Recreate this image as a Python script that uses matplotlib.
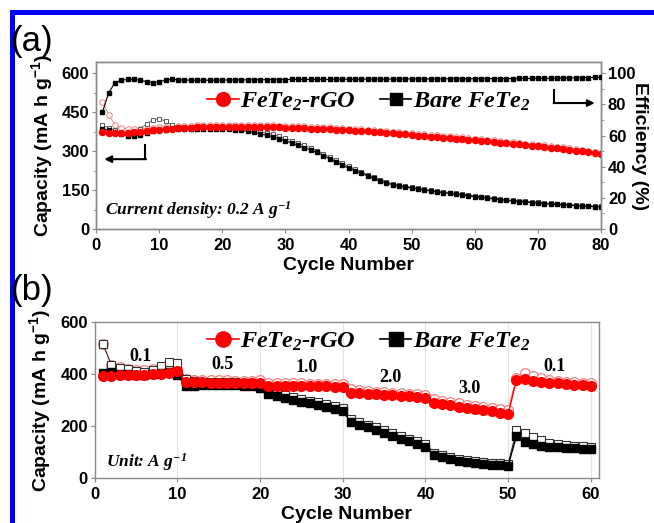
import matplotlib
matplotlib.use("Agg")
import matplotlib.pyplot as plt
from matplotlib.lines import Line2D
from matplotlib.patches import Rectangle
from matplotlib.ticker import MultipleLocator

# ---- panel (a): cycling at 0.2 A g-1 ----
cycles_a = list(range(1, 81))
rgo_dis_a = [372, 370, 368, 368, 370, 372, 375, 378, 381, 383,
             385, 387, 388, 389, 390, 391, 391, 392, 393, 393,
             393, 393, 393, 393, 393, 392, 392, 391, 391, 390,
             389, 389, 388, 387, 386, 385, 384, 383, 382, 380,
             379, 377, 376, 374, 372, 370, 368, 366, 364, 362,
             360, 358, 356, 354, 352, 350, 348, 346, 344, 342,
             340, 338, 335, 333, 330, 328, 326, 323, 321, 318,
             316, 313, 311, 308, 305, 302, 299, 296, 292, 288]
rgo_chg_a = [490, 440, 400, 388, 385, 384, 385, 387, 389, 391,
             393, 395, 396, 397, 398, 399, 399, 400, 401, 401,
             401, 401, 401, 401, 400, 400, 399, 399, 398, 397,
             396, 396, 395, 394, 393, 392, 391, 390, 389, 387,
             386, 384, 383, 381, 379, 377, 375, 373, 371, 369,
             367, 365, 363, 361, 359, 357, 355, 353, 351, 348,
             346, 344, 341, 339, 336, 334, 332, 329, 327, 324,
             322, 319, 317, 314, 311, 308, 305, 302, 298, 294]
bare_dis_a = [385, 380, 372, 365, 360, 358, 362, 370, 378, 380,
              382, 384, 385, 386, 386, 386, 386, 386, 385, 385,
              384, 382, 380, 377, 372, 367, 361, 355, 348, 340,
              331, 322, 313, 304, 295, 283, 271, 258, 246, 235,
              225, 215, 205, 195, 185, 177, 170, 165, 161, 158,
              154, 150, 147, 143, 140, 137, 134, 131, 128, 125,
              122, 119, 116, 113, 110, 108, 106, 104, 102, 100,
              98, 96, 95, 93, 92, 90, 89, 88, 86, 85]
bare_chg_a = [400, 390, 380, 372, 367, 366, 385, 405, 420, 425,
              415, 400, 394, 393, 393, 393, 393, 393, 392, 392,
              391, 389, 387, 385, 381, 376, 370, 364, 357, 349,
              340, 331, 322, 312, 302, 290, 278, 265, 253, 241,
              230, 220, 210, 200, 190, 181, 174, 169, 165, 161,
              157, 153, 150, 146, 143, 140, 137, 134, 131, 128,
              125, 122, 119, 116, 113, 111, 109, 107, 105, 103,
              101, 99, 97, 96, 94, 93, 91, 90, 89, 88]
bare_eff_a = [75, 87.5, 94, 95.5, 96, 96, 95.5, 94.5, 94, 94.5,
              95.5, 96, 95.8, 95.6, 95.5, 95.5, 95.5, 95.5, 95.6, 95.6,
              95.6, 95.7, 95.7, 95.7, 95.8, 95.8, 95.8, 95.9, 95.9, 95.9,
              96, 96, 96, 96, 96, 96, 96, 96.1, 96.1, 96.1,
              96.1, 96.1, 96.2, 96.2, 96.2, 96.2, 96.2, 96.2, 96.3, 96.3,
              96.3, 96.3, 96.3, 96.3, 96.4, 96.4, 96.4, 96.4, 96.4, 96.4,
              96.5, 96.5, 96.5, 96.5, 96.5, 96.5, 96.6, 96.6, 96.6, 96.6,
              96.6, 96.7, 96.7, 96.8, 96.9, 97, 97.1, 97.2, 97.3, 97.4]

# ---- panel (b): rate performance ----
cycles_b = list(range(1, 61))
rgo_dis_b = [392, 394, 395, 395, 396, 397, 399, 402, 405, 412,
             368, 368, 368, 367, 367, 367, 366, 366, 366, 365,
             354, 354, 354, 354, 353, 353, 353, 353, 352, 352,
             329, 327, 325, 323, 321, 319, 317, 315, 312, 309,
             290, 285, 280, 275, 271, 267, 262, 257, 251, 245,
             378, 380, 374, 370, 367, 364, 362, 360, 358, 356]
rgo_chg_b = [515, 437, 426, 420, 416, 414, 418, 428, 440, 418,
             382, 378, 377, 376, 376, 376, 375, 375, 375, 378,
             366, 365, 364, 364, 364, 363, 363, 363, 362, 362,
             342, 338, 335, 333, 331, 329, 327, 325, 322, 320,
             303, 297, 292, 287, 283, 279, 274, 270, 266, 262,
             385, 406, 393, 384, 378, 374, 371, 368, 366, 364]
bare_dis_b = [403, 407, 402, 399, 396, 396, 400, 405, 407, 396,
              353, 356, 358, 360, 360, 360, 358, 356, 353, 348,
              322, 314, 307, 300, 293, 287, 280, 273, 265, 257,
              215, 205, 195, 185, 175, 163, 152, 141, 131, 121,
              89, 80, 73, 67, 62, 58, 55, 52, 50, 48,
              160, 140, 131, 125, 121, 118, 116, 114, 112, 110]
bare_chg_b = [515, 435, 425, 418, 412, 410, 416, 430, 446, 441,
              380, 372, 370, 370, 370, 369, 368, 366, 363, 360,
              333, 325, 318, 311, 304, 298, 291, 284, 277, 270,
              226, 216, 206, 196, 186, 174, 163, 152, 142, 132,
              98, 88, 80, 74, 69, 64, 61, 58, 56, 54,
              183, 172, 158, 145, 136, 131, 128, 125, 122, 120]

rate_labels = ["0.1", "0.5", "1.0", "2.0", "3.0", "0.1"]
rate_label_x = [5.5, 15.4, 25.6, 35.7, 45.3, 55.6]
rate_label_y = [468, 437, 426, 387, 344, 430]

RED = "#ff0000"
PINK = "#f08080"
SPINE = "#8a8a8a"
SANS = "Liberation Sans"
SERIF = "Liberation Serif"

plt.rcParams["font.family"] = [SANS, "DejaVu Sans"]
plt.rcParams["font.weight"] = "bold"
plt.rcParams["mathtext.default"] = "regular"

fig = plt.figure(figsize=(6.54, 5.23), dpi=100)
ax_a = fig.add_axes([0.147, 0.562, 0.772, 0.319])
ax_b = fig.add_axes([0.145, 0.086, 0.771, 0.298])


def style_axis(ax):
    for sp in ax.spines.values():
        sp.set_color(SPINE)
        sp.set_linewidth(1.0)
    ax.tick_params(axis="both", which="both", direction="out", color=SPINE,
                   labelsize=12, pad=2)
    ax.tick_params(axis="x", pad=3.5)
    ax.tick_params(which="major", length=3)
    ax.tick_params(which="minor", length=2)
    for lbl in ax.get_xticklabels() + ax.get_yticklabels():
        lbl.set_fontweight("bold")


def legend_handles(ms):
    h1 = Line2D([], [], color=RED, marker="o", markersize=ms, lw=1.2)
    h2 = Line2D([], [], color="black", marker="s", markersize=ms - 1, lw=1.2)
    return [h1, h2]


def add_legend(ax, ms, y_px):
    ax.legend(legend_handles(ms), legend_text, prop=legend_font, frameon=False,
              loc="center left", bbox_to_anchor=(207 / 654, 1 - y_px / 523),
              bbox_transform=fig.transFigure, ncol=2, borderpad=0,
              borderaxespad=0, handlelength=1.3, handletextpad=0.05,
              columnspacing=1.0)


legend_text = ["FeTe$_\\mathregular{2}$-rGO", "Bare FeTe$_\\mathregular{2}$"]
legend_font = {"family": SERIF, "weight": "bold", "style": "italic", "size": 17.5}
LABEL_SIZE = 14

# ---------------- panel (a) ----------------
ax_a.plot(cycles_a, rgo_chg_a, color=PINK, lw=0.6, marker="o", ms=4,
          mfc="white", mec=PINK, mew=0.7, zorder=3)
ax_a.plot(cycles_a, bare_chg_a, color="#555555", lw=0.6, marker="s", ms=3.5,
          mfc="white", mec="#444444", mew=0.6, zorder=3)
ax_a.plot(cycles_a, bare_dis_a, color="black", lw=0.8, marker="s", ms=3.5,
          zorder=4)
ax_a.plot(cycles_a, rgo_dis_a, color=RED, lw=0.8, marker="o", ms=4.4,
          mec=RED, zorder=5)

ax_a.set_xlim(0, 80)
ax_a.set_ylim(0, 642)
ax_a.xaxis.set_major_locator(MultipleLocator(10))
ax_a.yaxis.set_major_locator(MultipleLocator(150))
ax_a.yaxis.set_minor_locator(MultipleLocator(75))
ax_a.set_xlabel("Cycle Number", fontsize=LABEL_SIZE, fontweight="bold", labelpad=3)
ax_a.set_ylabel("Capacity (mA h g$^{-1}$)", fontsize=LABEL_SIZE,
                fontweight="bold", labelpad=5)
style_axis(ax_a)

ax_e = ax_a.twinx()
ax_e.plot(cycles_a, bare_eff_a, color="black", lw=0.8, marker="s", ms=3.5,
          zorder=4)
ax_e.set_ylim(0, 107)
ax_e.yaxis.set_major_locator(MultipleLocator(20))
ax_e.yaxis.set_minor_locator(MultipleLocator(10))
ax_e.set_ylabel("Efficiency (%)", fontsize=LABEL_SIZE, fontweight="bold",
                rotation=-90, labelpad=9)
style_axis(ax_e)

# arrows pointing to the matching axes
ax_a.plot([7.8, 7.8], [323, 269], color="black", lw=1.5)
ax_a.annotate("", xy=(1.3, 269), xytext=(7.9, 269),
              arrowprops=dict(arrowstyle="-|>", color="black", lw=1.5,
                              mutation_scale=10, shrinkA=0, shrinkB=0))
ax_a.plot([72.6, 72.6], [535, 485], color="black", lw=1.5)
ax_a.annotate("", xy=(79.0, 485), xytext=(72.5, 485),
              arrowprops=dict(arrowstyle="-|>", color="black", lw=1.5,
                              mutation_scale=10, shrinkA=0, shrinkB=0))

ax_a.text(1.4, 73, "Current density: 0.2 A g$^{-1}$", family=SERIF,
          weight="bold", style="italic", fontsize=12.5, va="center")
add_legend(ax_a, 10, 102)

# ---------------- panel (b) ----------------
ax_b.grid(axis="x", color="#e4e4e4", lw=0.8)
ax_b.set_axisbelow(True)
ax_b.plot(cycles_b, rgo_chg_b, color=PINK, lw=0.8, marker="o", ms=7,
          mfc="white", mec=PINK, mew=0.9, zorder=3)
ax_b.plot(cycles_b, bare_chg_b, color="#333333", lw=0.8, marker="s", ms=6,
          mfc="white", mec="#333333", mew=0.8, zorder=3)
ax_b.plot(cycles_b, bare_dis_b, color="black", lw=1.0, marker="s", ms=6,
          zorder=4)
ax_b.plot(cycles_b, rgo_dis_b, color=RED, lw=1.0, marker="o", ms=7,
          mec=RED, zorder=5)

ax_b.set_xlim(0, 61)
ax_b.set_ylim(0, 600)
ax_b.xaxis.set_major_locator(MultipleLocator(10))
ax_b.yaxis.set_major_locator(MultipleLocator(200))
ax_b.set_xlabel("Cycle Number", fontsize=LABEL_SIZE, fontweight="bold", labelpad=3)
ax_b.set_ylabel("Capacity (mA h g$^{-1}$)", fontsize=LABEL_SIZE,
                fontweight="bold", labelpad=5)
style_axis(ax_b)

for lab, x, y in zip(rate_labels, rate_label_x, rate_label_y):
    ax_b.text(x, y, lab, family=SERIF, weight="bold", fontsize=13,
              ha="center", va="center", zorder=6)
ax_b.text(1.4, 62, "Unit: A g$^{-1}$", family=SERIF, weight="bold",
          style="italic", fontsize=12.5, va="center")
add_legend(ax_b, 11, 342)

# panel letters
fig.text(0.016, 0.92, "(a)", fontsize=25, fontweight="normal", va="center")
fig.text(0.016, 0.444, "(b)", fontsize=25, fontweight="normal", va="center")

# blue frame (top and left edges visible)
fig.patches.append(Rectangle((0.019, -0.1), 1.2, 1.077, transform=fig.transFigure,
                             fill=False, edgecolor="#0000ff", lw=3.6))

fig.savefig("out.png", dpi=100)
